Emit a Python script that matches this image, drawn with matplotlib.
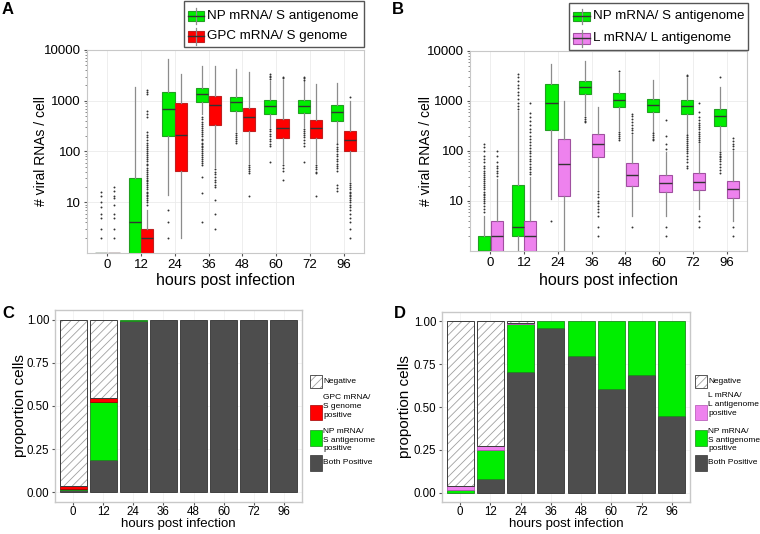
import numpy as np
import matplotlib
matplotlib.use('Agg')
import matplotlib.pyplot as plt
import matplotlib.patches as patches
from matplotlib.ticker import LogLocator, NullFormatter

plt.rcParams['font.family'] = ['Liberation Sans', 'DejaVu Sans']
plt.rcParams['hatch.linewidth'] = 0.6

hours = ['0', '12', '24', '36', '48', '60', '72', '96']

# ---- panel A: box stats (0 = no RNA detected, drawn at the panel floor)
np_a_lo = [0, 0, 14, 540, 250, 300, 300, 150]
np_a_q1 = [0, 0, 200, 930, 635, 560, 580, 400]
np_a_med = [0, 4, 675, 1330, 930, 800, 790, 590]
np_a_q3 = [0, 30, 1460, 1750, 1200, 1015, 1015, 820]
np_a_hi = [0, 1900, 6600, 4900, 4200, 2500, 2400, 2200]
np_a_out = [
    [2, 3, 5, 6, 8, 10, 13, 16],
    [],
    [2, 4, 7],
    [480, 430, 390, 350, 320, 290, 260, 240, 220, 200, 180, 165, 150, 140,
     130, 120, 110, 100, 92, 85, 78, 72, 66, 60, 55, 31, 15, 4],
    [230, 210, 190, 175, 160, 150],
    [280, 250, 225, 200, 180, 160, 140, 130, 62, 2700, 2900, 3100, 3300],
    [280, 250, 230, 210, 190, 170, 150, 130, 62, 2600, 2750, 2900],
    [140, 125, 110, 100, 90, 80, 72, 65, 58, 52, 47, 42, 22, 19, 17],
]

gpc_a_lo = [0, 0, 2, 50, 60, 60, 60, 26]
gpc_a_q1 = [0, 0, 41, 340, 256, 181, 186, 101]
gpc_a_med = [0, 2, 210, 820, 476, 285, 285, 165]
gpc_a_q3 = [0, 3, 910, 1235, 706, 440, 410, 252]
gpc_a_hi = [0, 7, 3400, 4800, 3700, 2600, 2100, 1000]
gpc_a_out = [
    [2, 3, 5, 6, 9, 12, 13, 17, 20],
    [9, 10, 11, 12, 13, 14, 15, 16, 18, 20, 22, 24, 26, 28, 30, 33, 36, 40,
     44, 48, 53, 58, 64, 70, 77, 85, 93, 100, 110, 120, 135, 150, 170, 190,
     210, 240, 480, 550, 620, 1350, 1500, 1650],
    [],
    [46, 40, 36, 32, 28, 25, 22, 20, 11, 6, 3],
    [55, 50, 46, 42, 38, 13],
    [55, 48, 42, 27, 2800, 3000],
    [55, 50, 45, 40, 37, 13],
    [24, 22, 20, 18, 16, 15, 14, 13, 12, 11, 10, 9, 8, 7, 6, 5, 4, 3, 2, 1200],
]

# ---- panel B
np_b_lo = [0, 0, 11, 520, 260, 240, 220, 105]
np_b_q1 = [0, 2, 261, 1380, 750, 605, 560, 313]
np_b_med = [0, 3, 910, 1900, 1050, 845, 800, 495]
np_b_q3 = [2, 21, 2180, 2530, 1420, 1110, 1060, 690]
np_b_hi = [5, 620, 5400, 6300, 3600, 2650, 2900, 1900]
np_b_out = [
    [6, 7, 8, 9, 10, 11, 12, 13, 14, 15, 17, 19, 21, 23, 25, 27, 30, 33, 36,
     40, 45, 50, 60, 70, 80, 100, 120, 140],
    [700, 800, 900, 1100, 1300, 1500, 1800, 2100, 2500, 3000, 3400],
    [4],
    [480, 440, 400, 380],
    [240, 220, 200, 180, 165, 4000],
    [230, 210, 190, 175, 165],
    [210, 190, 175, 160, 145, 130, 120, 110, 100, 90, 80, 70, 60, 50, 45,
     3100, 3300],
    [95, 88, 80, 75, 70, 62, 55, 48, 42, 36, 3000],
]

l_b_lo = [0, 0, 0, 17, 5, 5, 7, 4]
l_b_q1 = [0, 0, 12.4, 76, 19.6, 15, 16.8, 11.5]
l_b_med = [2, 2, 54, 135, 33, 22.5, 23.5, 17]
l_b_q3 = [4, 4, 176, 214, 58.6, 33, 35.5, 25.3]
l_b_hi = [28, 30, 985, 750, 210, 95, 135, 100]
l_b_out = [
    [32, 36, 40, 45, 50, 60, 80, 100],
    [34, 38, 43, 48, 55, 62, 70, 80, 90, 100, 115, 130, 150, 170, 200, 240,
     280, 330, 400, 480, 570, 900],
    [],
    [16, 14, 12, 10, 9, 8, 7, 6, 5, 3, 2],
    [230, 260, 290, 330, 380, 440, 500, 540, 3],
    [110, 136, 200, 425, 3, 2],
    [150, 165, 180, 200, 220, 240, 270, 300, 330, 370, 420, 480, 600, 900,
     5, 4, 3],
    [110, 125, 140, 160, 180, 3, 2],
]

# ---- panel C / D proportions (stack: both, single, other single, negative)
both_c = [0.012, 0.19, 0.993, 1, 1, 1, 1, 1]
np_c = [0.010, 0.335, 0.007, 0, 0, 0, 0, 0]
gpc_c = [0.018, 0.023, 0, 0, 0, 0, 0, 0]
neg_c = [0.960, 0.452, 0, 0, 0, 0, 0, 0]

both_d = [0.0, 0.078, 0.705, 0.963, 0.797, 0.603, 0.685, 0.446]
np_d = [0.013, 0.171, 0.281, 0.037, 0.203, 0.397, 0.315, 0.554]
l_d = [0.024, 0.021, 0.004, 0, 0, 0, 0, 0]
neg_d = [0.963, 0.730, 0.010, 0, 0, 0, 0, 0]

GREEN, RED, PINK, DARK = '#00ee00', '#ff0000', '#ee82ee', '#4d4d4d'
YMIN = 1.0

fig = plt.figure(figsize=(7.6, 5.34), dpi=100)
fig.patch.set_facecolor('white')


def stats(lo, q1, med, q3, hi, out):
    res = []
    for i in range(len(lo)):
        v = [max(a, YMIN) for a in (lo[i], q1[i], med[i], q3[i], hi[i])]
        res.append(dict(whislo=v[0], q1=v[1], med=v[2], q3=v[3], whishi=v[4],
                        fliers=np.array(out[i], dtype=float)))
    return res


def draw_boxes(ax, st, off, face, edge):
    ax.bxp(st, positions=np.arange(len(st)) + off, widths=0.36,
           patch_artist=True, showcaps=False, manage_ticks=False,
           boxprops=dict(facecolor=face, edgecolor=edge, linewidth=0.8),
           medianprops=dict(color='#333333', linewidth=1.0),
           whiskerprops=dict(color='#8c8c8c', linewidth=0.9),
           flierprops=dict(marker='o', markersize=1.4, markerfacecolor='#333333',
                           markeredgecolor='none'))


def style_log(ax, ylab_x, xlab_y):
    ax.set_yscale('log')
    ax.set_xlim(-0.6, 7.6)
    ax.set_ylim(YMIN, 10000)
    ax.set_xticks(range(len(hours)))
    ax.set_xticklabels(hours)
    ax.set_yticks([10, 100, 1000, 10000])
    ax.set_yticklabels(['10', '100', '1000', '10000'])
    ax.yaxis.set_minor_locator(LogLocator(base=10, subs=np.arange(2, 10)))
    ax.yaxis.set_minor_formatter(NullFormatter())
    ax.grid(True, which='major', color='#ebebeb', lw=0.6)
    ax.set_axisbelow(True)
    for s in ax.spines.values():
        s.set_color('#c8c8c8')
        s.set_linewidth(0.8)
    ax.tick_params(axis='both', which='major', labelsize=9.5, length=2.5,
                   color='#555555', pad=2)
    ax.tick_params(axis='y', which='minor', length=1.5, color='#777777')
    ax.set_ylabel('# viral RNAs / cell', fontsize=10)
    ax.set_xlabel('hours post infection', fontsize=11.5)
    ax.yaxis.set_label_coords(ylab_x, 0.5)
    ax.xaxis.set_label_coords(0.5, xlab_y)
    ax.xaxis.label.set_va('top')


axA = fig.add_axes([87 / 760, 1 - 253 / 534, 277 / 760, 203 / 534])
axA.set_yscale('log')
draw_boxes(axA, stats(np_a_lo, np_a_q1, np_a_med, np_a_q3, np_a_hi, np_a_out),
           -0.1875, GREEN, '#22a022')
draw_boxes(axA, stats(gpc_a_lo, gpc_a_q1, gpc_a_med, gpc_a_q3, gpc_a_hi, gpc_a_out),
           0.1875, RED, '#c02020')
style_log(axA, -0.141, -0.10)

axB = fig.add_axes([470 / 760, 1 - 251 / 534, 277 / 760, 200 / 534])
axB.set_yscale('log')
draw_boxes(axB, stats(np_b_lo, np_b_q1, np_b_med, np_b_q3, np_b_hi, np_b_out),
           -0.1875, GREEN, '#22a022')
draw_boxes(axB, stats(l_b_lo, l_b_q1, l_b_med, l_b_q3, l_b_hi, l_b_out),
           0.1875, PINK, '#a050a0')
style_log(axB, -0.134, -0.11)


def stack(ax, layers):
    x = np.arange(len(hours))
    bottom = np.zeros(len(hours))
    for vals, face, edge in layers:
        vals = np.array(vals, dtype=float)
        m = vals > 0
        if face == 'neg':
            ax.bar(x[m], vals[m], 0.9, bottom=bottom[m], color='white',
                   edgecolor='#a0a0a0', hatch='////', lw=0)
            ax.bar(x[m], vals[m], 0.9, bottom=bottom[m], fill=False,
                   edgecolor='#3c3c3c', lw=0.7)
        else:
            ax.bar(x[m], vals[m], 0.9, bottom=bottom[m], color=face,
                   edgecolor=edge, lw=0.6)
        bottom += vals


def style_bar(ax, ylab_x):
    ax.set_xlim(-0.6, 7.6)
    ax.set_ylim(-0.055, 1.055)
    ax.set_xticks(range(len(hours)))
    ax.set_xticklabels(hours)
    ax.set_yticks([0, 0.25, 0.5, 0.75, 1.0])
    ax.set_yticklabels(['0.00', '0.25', '0.50', '0.75', '1.00'])
    ax.grid(True, color='#f2f2f2', lw=0.6)
    ax.set_axisbelow(True)
    for s in ax.spines.values():
        s.set_color('#c8c8c8')
        s.set_linewidth(1.0)
    ax.tick_params(labelsize=8.3, length=2, color='#555555', pad=2)
    ax.tick_params(axis='x', pad=1)
    ax.set_ylabel('proportion cells', fontsize=11)
    ax.set_xlabel('hours post infection', fontsize=9.5)
    ax.yaxis.set_label_coords(ylab_x, 0.5)
    ax.xaxis.set_label_coords(0.5, -0.085)
    ax.xaxis.label.set_va('top')


axC = fig.add_axes([55 / 760, 1 - 502 / 534, 247 / 760, 192 / 534])
stack(axC, [(both_c, DARK, '#333333'), (np_c, GREEN, '#1e8a1e'),
            (gpc_c, RED, '#a00000'), (neg_c, 'neg', None)])
style_bar(axC, -0.113)

axD = fig.add_axes([442 / 760, 1 - 502 / 534, 248 / 760, 190 / 534])
stack(axD, [(both_d, DARK, '#333333'), (np_d, GREEN, '#1e8a1e'),
            (l_d, PINK, '#b050b0'), (neg_d, 'neg', None)])
style_bar(axD, -0.121)

# ---- overlay for panel letters and legends (pixel coordinates)
ov = fig.add_axes([0, 0, 1, 1], zorder=10)
ov.set_xlim(0, 760)
ov.set_ylim(534, 0)
ov.axis('off')
ov.patch.set_visible(False)

for lab, x, y in [('A', 8, 10), ('B', 398, 9.5), ('C', 8.5, 314), ('D', 400, 313.5)]:
    ov.text(x, y, lab, fontsize=12, fontweight='bold', ha='center', va='center')


def box_key(x0, y0, w, h, face, edge):
    ov.plot([x0 + w / 2] * 2, [y0 - 3, y0 + h + 3], color='#8c8c8c', lw=0.9)
    ov.add_patch(patches.Rectangle((x0, y0), w, h, facecolor=face, edgecolor=edge, lw=0.8))
    ov.plot([x0, x0 + w], [y0 + h / 2] * 2, color='#333333', lw=1)


ov.add_patch(patches.Rectangle((184, 0.7), 180, 46.3, facecolor='white',
                               edgecolor='#555555', lw=1))
box_key(188, 10.5, 16, 10.5, GREEN, '#22a022')
ov.text(207, 15.5, 'NP mRNA/ S antigenome', fontsize=9.6, va='center')
box_key(188, 30.5, 16, 11, RED, '#c02020')
ov.text(207, 36, 'GPC mRNA/ S genome', fontsize=9.6, va='center')

ov.add_patch(patches.Rectangle((569, 3), 179, 47, facecolor='white',
                               edgecolor='#555555', lw=1))
box_key(573, 11.5, 17, 9.5, GREEN, '#22a022')
ov.text(593, 16.5, 'NP mRNA/ S antigenome', fontsize=9.6, va='center')
box_key(573, 33, 17, 10.5, PINK, '#a050a0')
ov.text(593, 38.5, 'L mRNA/ L antigenome', fontsize=9.6, va='center')


def bar_legend(x0, mid_lab, mid_color, mid_edge, mid_y):
    ov.add_patch(patches.Rectangle((x0, 375), 11.7, 13, facecolor='white',
                                   edgecolor='#a0a0a0', hatch='////', lw=0))
    ov.add_patch(patches.Rectangle((x0, 375), 11.7, 13, fill=False,
                                   edgecolor='#3c3c3c', lw=0.6))
    ov.text(x0 + 13, 381.7, 'Negative', fontsize=6, va='center')
    ov.add_patch(patches.Rectangle((x0, 405), 11.7, 14.5, facecolor=mid_color,
                                   edgecolor=mid_edge, lw=0.5))
    ov.text(x0 + 13, mid_y, mid_lab, fontsize=6, va='center', linespacing=1.45)
    ov.add_patch(patches.Rectangle((x0, 430), 11.7, 16, facecolor=GREEN,
                                   edgecolor='#1e8a1e', lw=0.5))
    ov.text(x0 + 13, 440, 'NP mRNA/\nS antigenome\npositive', fontsize=6,
            va='center', linespacing=1.3)
    ov.add_patch(patches.Rectangle((x0, 454.5), 11.7, 16, facecolor=DARK,
                                   edgecolor='#333333', lw=0.5))
    ov.text(x0 + 13, 462.5, 'Both Positive', fontsize=6, va='center')


bar_legend(310, 'GPC mRNA/\nS genome\npositive', RED, '#a00000', 406.7)
bar_legend(695, 'L mRNA/\nL antigenome\npositive', PINK, '#b050b0', 404.7)

fig.savefig('out.png', dpi=100, facecolor='white')
